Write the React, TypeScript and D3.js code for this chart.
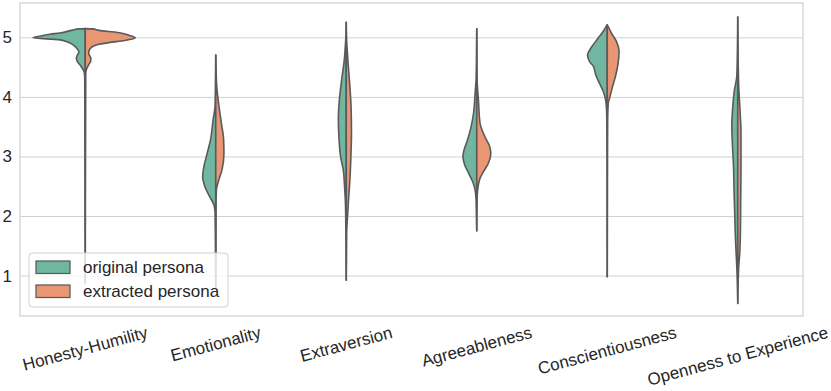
import React from 'react'
import * as d3 from 'd3'

const traits = [
  'Honesty-Humility',
  'Emotionality',
  'Extraversion',
  'Agreeableness',
  'Conscientiousness',
  'Openness to Experience',
]
const groups = ['original persona', 'extracted persona']
const groupColors = ['#71b6a1', '#e99675']
const yTicks = [1, 2, 3, 4, 5]

// [score, density] pairs, from the top of each half down
const honestyOriginal = [
  [5.155, 0], [5.15, 6], [5.13, 13], [5.08, 26], [5.06, 36], [5.03, 45], [5.0, 53],
  [4.97, 27], [4.93, 18], [4.89, 13], [4.85, 10], [4.8, 7.5], [4.76, 6.5], [4.71, 8],
  [4.66, 9], [4.6, 8], [4.55, 5.5], [4.5, 3.5], [4.46, 2], [4.42, 1], [4.3, 0.5], [0.88, 0],
]
const honestyExtracted = [
  [5.155, 0], [5.15, 7], [5.125, 14], [5.09, 33], [5.05, 43], [5.0, 51], [4.955, 40],
  [4.92, 24], [4.88, 11], [4.83, 5.7], [4.78, 3.8], [4.74, 3.5], [4.7, 4.5], [4.66, 5.7],
  [4.61, 5.5], [4.55, 3.5], [4.5, 2], [4.46, 1], [4.4, 0.5], [0.88, 0],
]
const emotionalityOriginal = [
  [4.71, 0], [4.2, 0.3], [3.85, 0.7], [3.62, 2.7], [3.29, 5.3], [3.06, 8.7], [2.84, 12],
  [2.67, 13.3], [2.5, 11], [2.33, 6], [2.19, 1.7], [2.06, 0.7], [1.5, 0.3], [0.8, 0],
]
const emotionalityExtracted = [
  [4.71, 0], [4.45, 0.4], [4.24, 0.8], [4.13, 1.3], [3.85, 3.3], [3.57, 5.7], [3.29, 8],
  [3.06, 8.3], [2.78, 6.3], [2.61, 3], [2.45, 0.7], [2.2, 0.3], [0.8, 0],
]
const extraversionOriginal = [
  [5.26, 0], [4.97, 0.5], [4.85, 1], [4.63, 2], [4.29, 4.7], [3.96, 7], [3.62, 8], [3.29, 7.3],
  [3.0, 5.7], [2.78, 3], [2.5, 1.7], [2.16, 0.7], [1.6, 0.3], [0.93, 0],
]
const extraversionExtracted = [
  [5.26, 0], [4.95, 0.4], [4.8, 1], [4.55, 2], [4.18, 3.7], [3.79, 5], [3.4, 5.3], [3.0, 4.7],
  [2.61, 3.7], [2.28, 2.3], [2.0, 1.3], [1.72, 0.4], [1.3, 0.2], [0.93, 0],
]
const agreeablenessOriginal = [
  [5.15, 0], [4.6, 0.3], [4.29, 0.7], [4.07, 1.7], [3.73, 3.3], [3.51, 5.7], [3.29, 9.3],
  [3.09, 13.3], [3.0, 14], [2.87, 12.3], [2.73, 8.3], [2.58, 4], [2.45, 1.7], [2.28, 0.7],
  [2.0, 0.3], [1.76, 0],
]
const agreeablenessExtracted = [
  [5.15, 0], [4.5, 0.2], [4.24, 0.5], [3.96, 1.7], [3.57, 3.3], [3.34, 8.3], [3.17, 13.3],
  [3.06, 14.3], [2.89, 11.7], [2.75, 6.7], [2.64, 3.3], [2.5, 1.3], [2.3, 0.4], [1.76, 0],
]
const conscientiousnessOriginal = [
  [5.22, 0], [5.11, 4], [5.0, 9], [4.85, 15.7], [4.71, 20], [4.6, 18], [4.52, 14], [4.38, 11.7],
  [4.24, 8], [4.1, 4], [3.96, 1.7], [3.79, 0.7], [3.4, 0.3], [0.99, 0],
]
const conscientiousnessExtracted = [
  [5.22, 0], [5.08, 4.3], [4.94, 9.3], [4.77, 12], [4.57, 11], [4.35, 8.3], [4.18, 5.3],
  [4.01, 2.7], [3.9, 1], [3.6, 0.4], [0.99, 0],
]
const opennessOriginal = [
  [5.35, 0], [4.7, 0.4], [4.35, 1], [4.13, 3.3], [3.79, 5.3], [3.51, 6], [3.17, 5.3],
  [2.84, 4.3], [2.39, 3.7], [2.0, 3], [1.61, 2.3], [1.27, 1.3], [1.05, 0.7], [0.8, 0.3], [0.54, 0],
]
const opennessExtracted = [
  [5.35, 0], [4.6, 0.4], [4.35, 0.7], [4.18, 1], [3.79, 2.3], [3.4, 3.3], [2.84, 3.3],
  [2.28, 3], [1.72, 2.7], [1.38, 2], [1.16, 1], [0.9, 0.4], [0.54, 0],
]

const originalDensity = [
  honestyOriginal, emotionalityOriginal, extraversionOriginal,
  agreeablenessOriginal, conscientiousnessOriginal, opennessOriginal,
]
const extractedDensity = [
  honestyExtracted, emotionalityExtracted, extraversionExtracted,
  agreeablenessExtracted, conscientiousnessExtracted, opennessExtracted,
]

const width = 831
const height = 391
const plot = { left: 20, right: 803, top: 3, bottom: 316 }
const fontFamily = "'Liberation Sans', Arial, Helvetica, sans-serif"
const fontSize = 17
const textColor = '#262626'
const outline = '#5a5a5a'
const gridColor = '#d0d0d0'
const tilt = 15

const xScale = d3.scaleBand<string>().domain(traits).range([plot.left, plot.right])
const yScale = d3.scaleLinear().domain([0.33, 5.585]).range([plot.bottom, plot.top])

const maxDensity = d3.max([...originalDensity, ...extractedDensity].flat(), (d) => d[1]) ?? 1
const widthScale = d3.scaleLinear().domain([0, maxDensity]).range([0, xScale.bandwidth() * 0.4])

const halfArea = (cx: number, side: number) =>
  d3.area<number[]>()
    .y((d) => yScale(d[0]))
    .x0(cx)
    .x1((d) => cx + side * widthScale(d[1]))
    .curve(d3.curveMonotoneY)

const measure = (text: string) => {
  const ctx = document.createElement('canvas').getContext('2d')
  if (!ctx) return text.length * fontSize * 0.5
  ctx.font = `${fontSize}px ${fontFamily}`
  return ctx.measureText(text).width
}

const Violin = ({ index }: { index: number }) => {
  const cx = (xScale(traits[index]) ?? 0) + xScale.bandwidth() / 2
  const halves = [originalDensity[index], extractedDensity[index]]
  return (
    <g>
      {halves.map((dens, i) => (
        <path
          key={i}
          d={halfArea(cx, i === 0 ? -1 : 1)(dens) ?? ''}
          fill={groupColors[i]}
          stroke={outline}
          strokeWidth={1.6}
          strokeLinejoin='round'
        />
      ))}
    </g>
  )
}

const XLabel = ({ label }: { label: string }) => {
  const cx = (xScale(label) ?? 0) + xScale.bandwidth() / 2
  const rad = (tilt * Math.PI) / 180
  const len = measure(label)
  const cy = 324 + (len / 2) * Math.sin(rad) + (fontSize / 2) * Math.cos(rad)
  return (
    <text
      x={cx}
      y={cy}
      textAnchor='middle'
      dominantBaseline='central'
      transform={`rotate(${-tilt}, ${cx}, ${cy})`}
    >
      {label}
    </text>
  )
}

const Legend = () => (
  <g>
    <rect x={29} y={253} width={199} height={54} rx={3} fill='#fff' fillOpacity={0.8} stroke={gridColor} />
    {groups.map((g, i) => (
      <g key={g} transform={`translate(0, ${i * 24})`}>
        <rect x={36} y={261} width={34} height={12.5} fill={groupColors[i]} stroke={outline} strokeWidth={1.25} />
        <text x={83} y={273}>{g}</text>
      </g>
    ))}
  </g>
)

const App = () => (
  <div style={{ position: 'absolute', left: 0, top: 0 }}>
    <svg
      width={width}
      height={height}
      style={{ display: 'block', background: '#fff' }}
      fontFamily={fontFamily}
      fontSize={fontSize}
      fill={textColor}
    >
      {yTicks.map((t) => (
        <g key={t}>
          <line x1={plot.left} x2={plot.right} y1={yScale(t)} y2={yScale(t)} stroke={gridColor} strokeWidth={1} />
          <text x={12} y={yScale(t)} textAnchor='end' dominantBaseline='central'>{t}</text>
        </g>
      ))}
      {traits.map((t, i) => <Violin key={t} index={i} />)}
      <rect
        x={plot.left}
        y={plot.top}
        width={plot.right - plot.left}
        height={plot.bottom - plot.top}
        fill='none'
        stroke={gridColor}
        strokeWidth={1.25}
      />
      {traits.map((t) => <XLabel key={t} label={t} />)}
      <Legend />
    </svg>
  </div>
)

export default App
